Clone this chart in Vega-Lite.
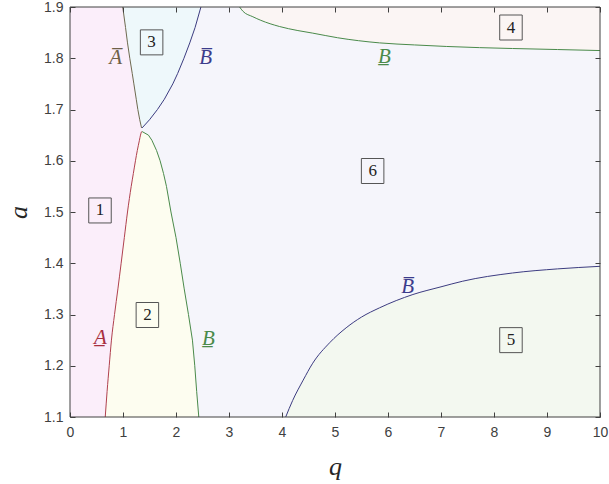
{
  "$schema": "https://vega.github.io/schema/vega-lite/v6.json",
  "width": 530,
  "height": 410,
  "autosize": "none",
  "padding": {"left": 70, "top": 7, "right": 9, "bottom": 67},
  "background": "white",
  "config": {
    "view": {"fill": "#f5f5fb", "stroke": null},
    "axis": {
      "grid": false,
      "domainColor": "#404040",
      "tickColor": "#404040",
      "labelColor": "#404040",
      "labelFont": "Liberation Sans",
      "labelFontSize": 14,
      "labelFlush": false,
      "titleFont": "Liberation Serif",
      "titleFontStyle": "italic",
      "titleFontWeight": "normal",
      "titleFontSize": 26,
      "titleColor": "#262626"
    }
  },
  "datasets": {
    "left": [
      {"a": 1.1, "q": 0.665}, {"a": 1.15, "q": 0.70}, {"a": 1.2, "q": 0.74}, {"a": 1.25, "q": 0.782},
      {"a": 1.3, "q": 0.84}, {"a": 1.35, "q": 0.904}, {"a": 1.4, "q": 0.965}, {"a": 1.45, "q": 1.025},
      {"a": 1.5, "q": 1.085}, {"a": 1.55, "q": 1.155}, {"a": 1.6, "q": 1.235}, {"a": 1.63, "q": 1.29},
      {"a": 1.657, "q": 1.35}, {"a": 1.664, "q": 1.35}, {"a": 1.68, "q": 1.316}, {"a": 1.7, "q": 1.28},
      {"a": 1.72, "q": 1.25}, {"a": 1.75, "q": 1.205}, {"a": 1.77, "q": 1.175}, {"a": 1.8, "q": 1.128},
      {"a": 1.83, "q": 1.085}, {"a": 1.86, "q": 1.048}, {"a": 1.9, "q": 0.995}
    ],
    "reg2": [
      {"a": 1.1, "qL": 0.665, "qR": 2.43}, {"a": 1.15, "qL": 0.70, "qR": 2.39},
      {"a": 1.2, "qL": 0.74, "qR": 2.354}, {"a": 1.25, "qL": 0.782, "qR": 2.31},
      {"a": 1.3, "qL": 0.84, "qR": 2.235}, {"a": 1.35, "qL": 0.904, "qR": 2.155},
      {"a": 1.4, "qL": 0.965, "qR": 2.08}, {"a": 1.45, "qL": 1.025, "qR": 2.0},
      {"a": 1.5, "qL": 1.085, "qR": 1.905}, {"a": 1.55, "qL": 1.155, "qR": 1.82},
      {"a": 1.575, "qL": 1.195, "qR": 1.765}, {"a": 1.6, "qL": 1.235, "qR": 1.70},
      {"a": 1.62, "qL": 1.27, "qR": 1.633}, {"a": 1.64, "qL": 1.31, "qR": 1.545},
      {"a": 1.65, "qL": 1.33, "qR": 1.48}, {"a": 1.657, "qL": 1.35, "qR": 1.36}
    ],
    "reg3": [
      {"a": 1.664, "qL": 1.35, "qR": 1.36}, {"a": 1.68, "qL": 1.316, "qR": 1.50},
      {"a": 1.7, "qL": 1.28, "qR": 1.65}, {"a": 1.72, "qL": 1.25, "qR": 1.78},
      {"a": 1.75, "qL": 1.205, "qR": 1.94}, {"a": 1.77, "qL": 1.175, "qR": 2.03},
      {"a": 1.8, "qL": 1.128, "qR": 2.15}, {"a": 1.83, "qL": 1.085, "qR": 2.26},
      {"a": 1.86, "qL": 1.048, "qR": 2.36}, {"a": 1.9, "qL": 0.995, "qR": 2.47}
    ],
    "upperB": [
      {"q": 3.2, "a": 1.9}, {"q": 3.26, "a": 1.892}, {"q": 3.45, "a": 1.881}, {"q": 3.6, "a": 1.874},
      {"q": 3.95, "a": 1.862}, {"q": 4.3, "a": 1.854}, {"q": 4.58, "a": 1.849}, {"q": 5.05, "a": 1.84},
      {"q": 5.84, "a": 1.83}, {"q": 6.5, "a": 1.826}, {"q": 7.1, "a": 1.823}, {"q": 8.35, "a": 1.819},
      {"q": 9.2, "a": 1.817}, {"q": 10, "a": 1.815}
    ],
    "lowerB": [
      {"q": 4.07, "a": 1.1}, {"q": 4.2, "a": 1.132}, {"q": 4.4, "a": 1.172}, {"q": 4.58, "a": 1.205},
      {"q": 4.9, "a": 1.245}, {"q": 5.21, "a": 1.274}, {"q": 5.5, "a": 1.295}, {"q": 5.84, "a": 1.313},
      {"q": 6.47, "a": 1.339}, {"q": 7.0, "a": 1.354}, {"q": 7.41, "a": 1.365}, {"q": 8.35, "a": 1.381},
      {"q": 9.2, "a": 1.389}, {"q": 10, "a": 1.394}
    ],
    "boxes": [
      {"q": 0.566, "a": 1.503, "label": "1"},
      {"q": 1.46, "a": 1.299, "label": "2"},
      {"q": 1.54, "a": 1.831, "label": "3"},
      {"q": 8.32, "a": 1.86, "label": "4"},
      {"q": 8.32, "a": 1.25, "label": "5"},
      {"q": 5.71, "a": 1.58, "label": "6"}
    ],
    "curveLabels": [
      {"q": 0.86, "a": 1.80, "label": "A\u0305", "curve": "Abar"},
      {"q": 2.56, "a": 1.80, "label": "B\u0305", "curve": "Bbar"},
      {"q": 5.93, "a": 1.803, "label": "B\u0332", "curve": "Bund"},
      {"q": 6.37, "a": 1.354, "label": "B\u0305", "curve": "Bbar"},
      {"q": 0.575, "a": 1.255, "label": "A\u0332", "curve": "Aund"},
      {"q": 2.61, "a": 1.253, "label": "B\u0332", "curve": "Bund"}
    ]
  },
  "resolve": {"axis": {"x": "independent", "y": "independent"}},
  "layer": [
    {
      "data": {"name": "left"},
      "mark": {"type": "area", "orient": "horizontal", "color": "#fbeefa"},
      "encoding": {
        "y": {"field": "a", "type": "quantitative", "scale": {"domain": [1.1, 1.9], "nice": false, "zero": false},
              "axis": {"values": [1.1, 1.2, 1.3, 1.4, 1.5, 1.6, 1.7, 1.8, 1.9], "format": ".1f", "title": "a", "titlePadding": 12, "labelPadding": 7, "tickSize": 5, "offset": -5, "domain": false, "zindex": 2}},
        "x": {"field": "q", "type": "quantitative", "scale": {"domain": [0, 10], "nice": false},
              "axis": {"values": [0, 1, 2, 3, 4, 5, 6, 7, 8, 9, 10], "format": "d", "title": "q", "labelPadding": 8, "titlePadding": 14, "tickSize": 5, "offset": -5, "domain": false, "zindex": 2}},
        "x2": {"datum": 0}
      }
    },
    {
      "data": {"name": "reg2"},
      "mark": {"type": "area", "orient": "horizontal", "color": "#fdfdf0"},
      "encoding": {
        "y": {"field": "a", "type": "quantitative", "axis": null},
        "x": {"field": "qL", "type": "quantitative", "axis": null},
        "x2": {"field": "qR"}
      }
    },
    {
      "data": {"name": "reg3"},
      "mark": {"type": "area", "orient": "horizontal", "color": "#eef8fb"},
      "encoding": {
        "y": {"field": "a", "type": "quantitative", "axis": null},
        "x": {"field": "qL", "type": "quantitative", "axis": null},
        "x2": {"field": "qR"}
      }
    },
    {
      "data": {"name": "upperB"},
      "mark": {"type": "area", "color": "#fbf5f4"},
      "encoding": {
        "x": {"field": "q", "type": "quantitative", "axis": null},
        "y": {"field": "a", "type": "quantitative", "axis": null},
        "y2": {"datum": 1.9}
      }
    },
    {
      "data": {"name": "lowerB"},
      "mark": {"type": "area", "color": "#f3f8f0"},
      "encoding": {
        "x": {"field": "q", "type": "quantitative", "axis": null},
        "y": {"field": "a", "type": "quantitative", "axis": null},
        "y2": {"datum": 1.1}
      }
    },
    {
      "data": {"name": "reg2"},
      "mark": {"type": "line", "color": "#b0404e", "strokeWidth": 1, "interpolate": "monotone"},
      "encoding": {
        "x": {"field": "qL", "type": "quantitative", "axis": null},
        "y": {"field": "a", "type": "quantitative", "axis": null},
        "order": {"field": "a"}
      }
    },
    {
      "data": {"name": "reg2"},
      "mark": {"type": "line", "color": "#4a8a4a", "strokeWidth": 1},
      "encoding": {
        "x": {"field": "qR", "type": "quantitative", "axis": null},
        "y": {"field": "a", "type": "quantitative", "axis": null},
        "order": {"field": "a"}
      }
    },
    {
      "data": {"name": "reg3"},
      "mark": {"type": "line", "color": "#6e6a50", "strokeWidth": 1},
      "encoding": {
        "x": {"field": "qL", "type": "quantitative", "axis": null},
        "y": {"field": "a", "type": "quantitative", "axis": null},
        "order": {"field": "a"}
      }
    },
    {
      "data": {"name": "reg3"},
      "mark": {"type": "line", "color": "#3c3c80", "strokeWidth": 1},
      "encoding": {
        "x": {"field": "qR", "type": "quantitative", "axis": null},
        "y": {"field": "a", "type": "quantitative", "axis": null},
        "order": {"field": "a"}
      }
    },
    {
      "data": {"name": "upperB"},
      "mark": {"type": "line", "color": "#4a8a4a", "strokeWidth": 1, "interpolate": "monotone"},
      "encoding": {
        "x": {"field": "q", "type": "quantitative", "axis": null},
        "y": {"field": "a", "type": "quantitative", "axis": null}
      }
    },
    {
      "data": {"name": "lowerB"},
      "mark": {"type": "line", "color": "#3c3c80", "strokeWidth": 1, "interpolate": "monotone"},
      "encoding": {
        "x": {"field": "q", "type": "quantitative", "axis": null},
        "y": {"field": "a", "type": "quantitative", "axis": null}
      }
    },
    {
      "data": {"name": "boxes"},
      "mark": {"type": "point", "shape": "M-0.9,-1L0.9,-1L0.9,1L-0.9,1Z", "size": 625, "filled": false, "stroke": "#555555", "strokeWidth": 1, "opacity": 1},
      "encoding": {
        "x": {"field": "q", "type": "quantitative", "axis": null},
        "y": {"field": "a", "type": "quantitative", "axis": null}
      }
    },
    {
      "data": {"name": "boxes"},
      "mark": {"type": "text", "font": "Liberation Serif", "fontSize": 17, "color": "#222222", "baseline": "middle", "align": "center"},
      "encoding": {
        "x": {"field": "q", "type": "quantitative", "axis": null},
        "y": {"field": "a", "type": "quantitative", "axis": null},
        "text": {"field": "label"}
      }
    },
    {
      "data": {"name": "curveLabels"},
      "mark": {"type": "text", "font": "Liberation Serif", "fontSize": 21, "fontStyle": "italic", "baseline": "middle", "align": "center"},
      "encoding": {
        "x": {"field": "q", "type": "quantitative", "axis": null},
        "y": {"field": "a", "type": "quantitative", "axis": null},
        "text": {"field": "label"},
        "color": {"field": "curve", "type": "nominal", "legend": null,
                  "scale": {"domain": ["Abar", "Bbar", "Bund", "Aund"], "range": ["#6e6048", "#3c3c8c", "#4a8a4a", "#a83040"]}}
      }
    },
    {
      "data": {"values": [{"frame": 1}]},
      "mark": {"type": "rect", "fill": "transparent", "stroke": "#404040", "strokeWidth": 1},
      "encoding": {
        "x": {"datum": 0, "type": "quantitative",
              "axis": {"orient": "top", "values": [0, 1, 2, 3, 4, 5, 6, 7, 8, 9, 10], "labels": false, "title": null, "domain": false, "tickSize": 5, "offset": -5, "zindex": 2}},
        "x2": {"datum": 10},
        "y": {"datum": 1.1, "type": "quantitative",
              "axis": {"orient": "right", "values": [1.1, 1.2, 1.3, 1.4, 1.5, 1.6, 1.7, 1.8, 1.9], "labels": false, "title": null, "domain": false, "tickSize": 5, "offset": -5, "zindex": 2}},
        "y2": {"datum": 1.9}
      }
    }
  ]
}
